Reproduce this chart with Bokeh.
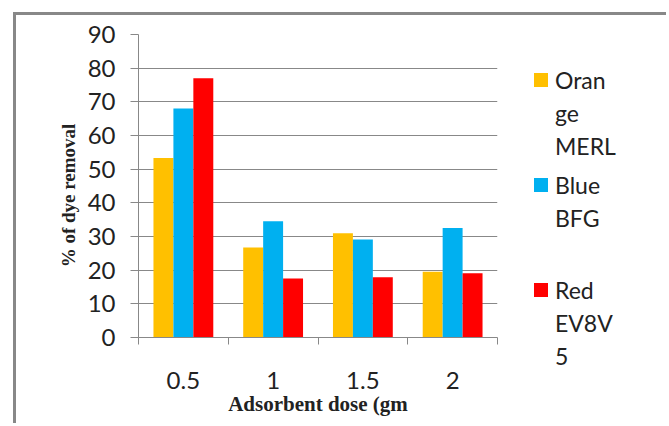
import numpy as np
from bokeh.plotting import figure
from bokeh.layouts import row
from bokeh.models import ColumnDataSource, FixedTicker, Range1d, Div
from bokeh.embed import file_html
from bokeh.resources import INLINE

doses = ["0.5", "1", "1.5", "2"]
orange_merl = [53.3, 26.7, 31.0, 19.5]
blue_bfg = [68.0, 34.5, 29.1, 32.5]
red_ev8v5 = [77.0, 17.5, 17.9, 19.1]
legend_lines = [["Oran", "ge", "MERL"], ["Blue", "BFG"], ["Red", "EV8V", "5"]]
colors = ["#FFC000", "#00B0F0", "#FF0000"]
y_ticks = [0, 10, 20, 30, 40, 50, 60, 70, 80, 90]

GRAY = "#888888"
TXT = "#222222"

centers = np.arange(len(doses)) + 0.5
bar_w = 1.0 / 4.5

p = figure(width=504, height=411, output_backend="svg", toolbar_location=None,
           x_range=Range1d(0, len(doses)), y_range=Range1d(0, 90),
           min_border_left=122, min_border_right=23, min_border_top=19, min_border_bottom=89)
p.outline_line_color = None
p.background_fill_color = "white"
p.border_fill_color = "white"

for k, (vals, col) in enumerate(zip([orange_merl, blue_bfg, red_ev8v5], colors)):
    src = ColumnDataSource(dict(x=centers + (k - 1) * bar_w, top=vals))
    p.vbar(x="x", top="top", bottom=0, width=bar_w, source=src,
           fill_color=col, line_color=None)

xa = p.xaxis[0]
xa.ticker = FixedTicker(ticks=list(centers), minor_ticks=list(range(len(doses) + 1)))
xa.major_label_overrides = {float(c): d for c, d in zip(centers, doses)}
xa.major_tick_out = 0
xa.major_tick_in = 0
xa.minor_tick_out = 7
xa.minor_tick_in = 0
xa.minor_tick_line_color = GRAY
xa.axis_line_color = GRAY
xa.major_label_text_font = "Lato"
xa.major_label_text_font_size = "24px"
xa.major_label_text_color = TXT
xa.major_label_standoff = 27
xa.axis_label = "Adsorbent dose (gm"
xa.axis_label_text_font = "Liberation Serif"
xa.axis_label_text_font_style = "bold"
xa.axis_label_text_font_size = "21px"
xa.axis_label_text_color = TXT
xa.axis_label_standoff = 0

ya = p.yaxis[0]
ya.ticker = FixedTicker(ticks=y_ticks, minor_ticks=[])
ya.major_tick_out = 8
ya.major_tick_in = 0
ya.major_tick_line_color = GRAY
ya.axis_line_color = GRAY
ya.major_label_text_font = "Lato"
ya.major_label_text_font_size = "24px"
ya.major_label_text_color = TXT
ya.major_label_standoff = 15
ya.axis_label = "% of dye removal" + "\u00a0" * 4
ya.axis_label_text_font = "Liberation Serif"
ya.axis_label_text_font_style = "bold"
ya.axis_label_text_font_size = "19px"
ya.axis_label_text_color = TXT
ya.axis_label_standoff = 6

p.xgrid.visible = False
p.ygrid.ticker = FixedTicker(ticks=y_ticks)
p.ygrid.grid_line_color = GRAY
p.ygrid.grid_line_width = 1

# legend (HTML block beside the plot; pixel layout)
LW, LH = 149, 411
item_top, item_step, line_step = 58, 105, 33
sq_left, sq_size, txt_left = 14, 14, 35
parts = []
for i, (lines, col) in enumerate(zip(legend_lines, colors)):
    y0 = item_top + i * item_step
    parts.append(f'<div style="position:absolute;left:{sq_left}px;top:{y0}px;'
                 f'width:{sq_size}px;height:{sq_size}px;background:{col};"></div>')
    for j, t in enumerate(lines):
        ty = y0 + sq_size / 2 - line_step / 2 + j * line_step
        parts.append(f'<div style="position:absolute;left:{txt_left}px;top:{ty}px;'
                     f'line-height:{line_step}px;white-space:nowrap;">{t}</div>')
html = (f'<div style="position:relative;width:{LW}px;height:{LH}px;background:white;'
        f'font-family:Lato;font-size:23px;color:{TXT};">' + "".join(parts) + '</div>')
lg = Div(text=html, width=LW, height=LH)
lg.margin = 0

layout = row(p, lg)
layout.margin = (15, 0, 0, 16)
layout.styles = {"box-shadow": "-3px -3px 0 0 " + GRAY}

open("out.html", "w").write(file_html(layout, INLINE))
